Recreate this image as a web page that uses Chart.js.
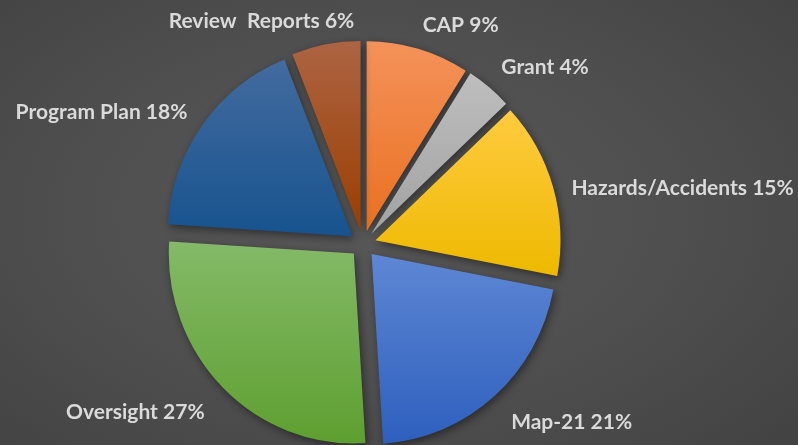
<!DOCTYPE html>
<html><head><meta charset="utf-8">
<script src="https://cdn.jsdelivr.net/npm/chart.js@4.4.1/dist/chart.umd.min.js"></script>
<style>
html,body{margin:0;padding:0;width:798px;height:445px;overflow:hidden;}
body{background: radial-gradient(ellipse 75% 80% at 47% 48%, #585858 0%, #4f4f4f 50%, #414141 100%);}
#wrap{position:relative;width:798px;height:445px;}
</style></head><body><div id="wrap"><canvas id="c"></canvas></div>
<script>
const categories = ['CAP', 'Grant', 'Hazards/Accidents', 'Map-21', 'Oversight', 'Program Plan', 'Review  Reports'];
const shares = [9, 4, 15, 21, 27, 18, 6];
const topColors = ['#F4925A', '#BEBEBE', '#FFCB40', '#5E87D4', '#84BA68', '#436B9F', '#AD6443'];
const bottomColors = ['#EA7020', '#A2A2A2', '#EEB900', '#2E5FBE', '#5E9F30', '#17538E', '#9A3E00'];

const R = 185, EXPLODE = 13, STRETCH_Y = 1.027;

function sliceAngles(i) {
  const total = shares.reduce((a, b) => a + b, 0);
  let s = 0;
  for (let k = 0; k < i; k++) s += shares[k];
  const a0 = s / total * Math.PI * 2;
  const a1 = (s + shares[i]) / total * Math.PI * 2;
  return [a0, a1, (a0 + a1) / 2];
}

function sliceGradient(c) {
  const i = c.dataIndex;
  const chart = c.chart;
  const area = chart.chartArea;
  if (!area) return topColors[i];
  const cy = (area.top + area.bottom) / 2;
  const [a0, a1] = sliceAngles(i);
  const ys = [cy, cy - R * Math.cos(a0), cy - R * Math.cos(a1)];
  if (a0 <= 0.0001) ys.push(cy - R);
  if (a0 <= Math.PI && a1 >= Math.PI) ys.push(cy + R);
  const y0 = Math.min(...ys), y1 = Math.max(...ys);
  const g = chart.ctx.createLinearGradient(0, y0, 0, y1);
  g.addColorStop(0, topColors[i]);
  g.addColorStop(1, bottomColors[i]);
  return g;
}

// draws each arc element (from the library) pushed out along its mid angle, with a soft shadow
const explodePlugin = {
  id: 'explode',
  beforeDatasetDraw(chart, args) {
    const c = chart.ctx;
    const area = chart.chartArea;
    const cy = (area.top + area.bottom) / 2;
    args.meta.data.forEach(arc => {
      const mid = (arc.startAngle + arc.endAngle) / 2;
      c.save();
      c.shadowColor = 'rgba(0,0,0,0.45)';
      c.shadowBlur = 9;
      c.shadowOffsetX = 2;
      c.shadowOffsetY = 3;
      c.translate(0, cy);
      c.scale(1, STRETCH_Y);
      c.translate(0, -cy);
      c.translate(Math.cos(mid) * EXPLODE, Math.sin(mid) * EXPLODE);
      arc.draw(c, chart.chartArea);
      c.restore();
    });
    return false;
  }
};

const labelPlugin = {
  id: 'outsideLabels',
  afterDraw(chart) {
    const c = chart.ctx;
    const area = chart.chartArea;
    const cx = (area.left + area.right) / 2, cy = (area.top + area.bottom) / 2;
    const h = 20;
    c.save();
    c.font = 'bold 21px Lato, "Open Sans", sans-serif';
    c.fillStyle = '#DADADA';
    c.textBaseline = 'middle';
    c.textAlign = 'left';
    categories.forEach((name, i) => {
      const text = name + ' ' + shares[i] + '%';
      const [, , am] = sliceAngles(i);
      const s = Math.sin(am), co = Math.cos(am);
      const rr = R + EXPLODE + (co < 0 ? 26 : 19);
      const ax = cx + rr * s, ay = cy - rr * co;
      const w = c.measureText(text).width;
      const kh = Math.max(-1, Math.min(1, s * 3.5));
      const kv = Math.max(-1, Math.min(1, (co - 0.45) * 3));
      const left = ax - w * (1 - kh) / 2;
      const yc = ay - kv * h / 2;
      c.fillText(text, left, yc);
    });
    c.restore();
  }
};

new Chart(document.getElementById('c'), {
  type: 'pie',
  data: {
    labels: categories,
    datasets: [{
      data: shares,
      backgroundColor: sliceGradient,
      borderWidth: 0
    }]
  },
  options: {
    responsive: true,
    maintainAspectRatio: false,
    animation: false,
    radius: R,
    layout: { padding: { top: 44, bottom: 1, left: 163, right: 235 } },
    plugins: { legend: { display: false }, tooltip: { enabled: false } }
  },
  plugins: [explodePlugin, labelPlugin]
});
</script>
</body></html>
